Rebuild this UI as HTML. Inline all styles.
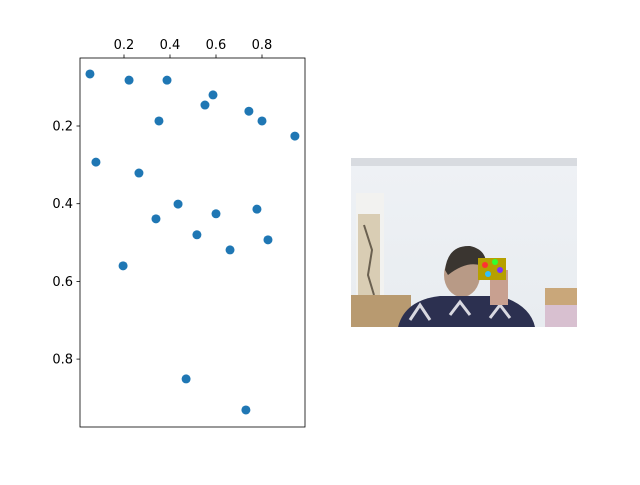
<!DOCTYPE html>
<html><head><meta charset="utf-8"><style>
body{margin:0;background:#fff;font-family:"Liberation Sans","DejaVu Sans",sans-serif}
svg text{font-family:"DejaVu Sans","Liberation Sans",sans-serif;font-size:13px;fill:#000}
</style></head><body>
<svg id="c" width="640" height="480" xmlns="http://www.w3.org/2000/svg">
<rect width="640" height="480" fill="#fff"/>
<g id="axes"></g>
<g>
<defs><linearGradient id="wall" x1="0" y1="0" x2="0" y2="1"><stop offset="0" stop-color="#dfe2e6"/><stop offset="0.05" stop-color="#eef1f5"/><stop offset="1" stop-color="#e8ecf0"/></linearGradient></defs>
<rect x="351" y="158" width="226" height="169" fill="url(#wall)"/>
<rect x="351" y="158" width="226" height="8" fill="#d8dbe0"/>
<rect x="356" y="193" width="28" height="110" fill="#f2f2f0"/>
<rect x="358" y="214" width="22" height="86" fill="#d9cdb4"/>
<path d="M364 225 L372 250 L368 275 L374 295" stroke="#6a6050" stroke-width="2" fill="none"/>
<rect x="351" y="295" width="60" height="32" fill="#b89a70"/>
<rect x="545" y="288" width="32" height="39" fill="#c9a77a"/>
<rect x="545" y="305" width="32" height="22" fill="#d8c0d0"/>
<ellipse cx="462" cy="275" rx="18" ry="22" fill="#b89a86"/>
<path d="M445 270 Q448 245 470 246 Q488 250 486 268 Q470 258 448 275Z" fill="#3a3530"/>
<path d="M398 327 Q405 300 440 296 L500 296 Q530 305 535 327Z" fill="#2c3050"/>
<path d="M410 320 L420 305 L430 320 M450 315 L460 302 L470 315 M490 318 L500 305 L510 318" stroke="#d8d8e0" stroke-width="3" fill="none"/>
<rect x="490" y="270" width="18" height="35" fill="#c8a090"/>
<rect x="478" y="258" width="28" height="22" fill="#b6a000"/>
<circle cx="485" cy="265" r="3" fill="#ff3030"/><circle cx="495" cy="262" r="3" fill="#30ff30"/><circle cx="500" cy="270" r="3" fill="#8030ff"/><circle cx="488" cy="274" r="3" fill="#30c0ff"/>
</g>
</svg>
<script>
const xs=[0.052,0.222,0.387,0.587,0.552,0.743,0.8,0.352,0.943,0.078,0.265,0.435,0.778,0.6,0.339,0.517,0.826,0.661,0.196,0.47,0.73];
const ys=[0.066,0.082,0.082,0.120,0.146,0.162,0.187,0.187,0.226,0.293,0.321,0.401,0.414,0.426,0.439,0.48,0.493,0.519,0.56,0.851,0.931];
const xTicks=[0.2,0.4,0.6,0.8];
const yTicks=[0.2,0.4,0.6,0.8];
const NS='http://www.w3.org/2000/svg';
const g=document.getElementById('axes');
const L=80,R=305,T=58,B=427;
const sx=v=>78+v*230;
const sy=v=>48.3+v*388.5;
function mk(t,a){const e=document.createElementNS(NS,t);for(const k in a)e.setAttribute(k,a[k]);g.appendChild(e);return e;}
xs.forEach((x,i)=>{const c=mk('circle',{cx:sx(x),cy:sy(ys[i]),r:4.5,fill:'#1f77b4'});

});
const f=mk('rect',{x:L,y:T,width:R-L,height:B-T,fill:'none',stroke:'#000','stroke-width':0.8});


xTicks.forEach(v=>{mk('line',{x1:sx(v),x2:sx(v),y1:T,y2:T-3.5,stroke:'#000','stroke-width':0.8});
const t=mk('text',{x:sx(v),y:T-9,'text-anchor':'middle'});t.textContent=v.toFixed(1);

});
yTicks.forEach(v=>{mk('line',{x1:L,x2:L-3.5,y1:sy(v),y2:sy(v),stroke:'#000','stroke-width':0.8});
const t=mk('text',{x:L-7,y:sy(v)+4.5,'text-anchor':'end'});t.textContent=v.toFixed(1);

});
</script>
</body></html>
